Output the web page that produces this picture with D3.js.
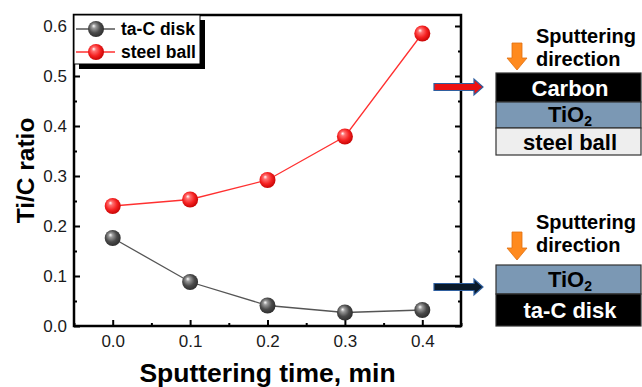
<!DOCTYPE html>
<html>
<head>
<meta charset="utf-8">
<script src="https://cdn.jsdelivr.net/npm/d3@7"></script>
<style>
  body { margin: 0; background: #fff; }
  svg { display: block; font-family: Arial, "Liberation Sans", sans-serif; }
</style>
</head>
<body>
<div id="chart"></div>
<script>
// Ti/C ratio vs sputtering time
const times = [0.0, 0.1, 0.2, 0.3, 0.4];
const taCDisk = [0.176, 0.088, 0.041, 0.027, 0.032];
const steelBall = [0.240, 0.253, 0.292, 0.379, 0.585];
const seriesNames = ["ta-C disk", "steel ball"];
const xTicks = [0.0, 0.1, 0.2, 0.3, 0.4];
const yTicks = [0.0, 0.1, 0.2, 0.3, 0.4, 0.5, 0.6];

const W = 642, H = 387;
const plot = { left: 74, top: 15, right: 461, bottom: 326 };

const svg = d3.select("#chart").append("svg")
  .attr("width", W).attr("height", H);

const defs = svg.append("defs");
function sphereGrad(id, light, mid, dark) {
  const g = defs.append("radialGradient").attr("id", id)
    .attr("cx", "45%").attr("cy", "45%").attr("r", "60%")
    .attr("fx", "35%").attr("fy", "30%");
  g.append("stop").attr("offset", "0%").attr("stop-color", "#ffffff");
  g.append("stop").attr("offset", "22%").attr("stop-color", light);
  g.append("stop").attr("offset", "60%").attr("stop-color", mid);
  g.append("stop").attr("offset", "100%").attr("stop-color", dark);
}
sphereGrad("gGray", "#9a9a9a", "#4a4a4a", "#2a2a2a");
sphereGrad("gRed", "#ff7070", "#f52222", "#c00000");

const x = d3.scaleLinear().domain([-0.05, 0.45]).range([plot.left, plot.right]);
const y = d3.scaleLinear().domain([0, 0.622]).range([plot.bottom, plot.top]);

// axes with inward ticks
const fmt = d3.format(".1f");
const minorX = d3.range(-0.05, 0.451, 0.05).map(v => +v.toFixed(2));
const minorY = d3.range(0.05, 0.62, 0.1).map(v => +v.toFixed(2));

svg.append("g").attr("transform", `translate(0,${plot.bottom})`)
  .call(d3.axisBottom(x).tickValues(xTicks).tickFormat(fmt).tickSizeInner(-6).tickSizeOuter(0).tickPadding(9))
  .call(g => g.select(".domain").remove())
  .call(g => g.selectAll("text").attr("font-size", 17).attr("fill", "#1a1a1a"))
  .call(g => g.selectAll("line").attr("stroke-width", 2));
svg.append("g").attr("transform", `translate(0,${plot.bottom})`)
  .call(d3.axisBottom(x).tickValues(minorX.filter(v => !xTicks.some(t => Math.abs(t - v) < 1e-6))).tickFormat("").tickSizeInner(-3).tickSizeOuter(0))
  .call(g => g.select(".domain").remove())
  .call(g => g.selectAll("line").attr("stroke-width", 2));

svg.append("g").attr("transform", `translate(${plot.left},0)`)
  .call(d3.axisLeft(y).tickValues(yTicks).tickFormat(fmt).tickSizeInner(-6).tickSizeOuter(0).tickPadding(7))
  .call(g => g.select(".domain").remove())
  .call(g => g.selectAll("text").attr("font-size", 17).attr("fill", "#1a1a1a"))
  .call(g => g.selectAll("line").attr("stroke-width", 2));
svg.append("g").attr("transform", `translate(${plot.left},0)`)
  .call(d3.axisLeft(y).tickValues(minorY).tickFormat("").tickSizeInner(-3).tickSizeOuter(0))
  .call(g => g.select(".domain").remove())
  .call(g => g.selectAll("line").attr("stroke-width", 2));

// right side ticks
svg.append("g").attr("transform", `translate(${plot.right},0)`)
  .call(d3.axisRight(y).tickValues(yTicks).tickFormat("").tickSizeInner(-6).tickSizeOuter(0))
  .call(g => g.select(".domain").remove())
  .call(g => g.selectAll("line").attr("stroke-width", 2));
svg.append("g").attr("transform", `translate(${plot.right},0)`)
  .call(d3.axisRight(y).tickValues(minorY).tickFormat("").tickSizeInner(-3).tickSizeOuter(0))
  .call(g => g.select(".domain").remove())
  .call(g => g.selectAll("line").attr("stroke-width", 2));

// frame
svg.append("rect")
  .attr("x", plot.left).attr("y", plot.top)
  .attr("width", plot.right - plot.left).attr("height", plot.bottom - plot.top)
  .attr("fill", "none").attr("stroke", "#000").attr("stroke-width", 2.5);

// axis titles
svg.append("text")
  .attr("transform", `translate(34,${(plot.top + plot.bottom) / 2}) rotate(-90)`)
  .attr("text-anchor", "middle").attr("font-size", 24.5).attr("font-weight", "bold")
  .text("Ti/C ratio");
svg.append("text")
  .attr("x", (plot.left + plot.right) / 2 - 0).attr("y", 382)
  .attr("text-anchor", "middle").attr("font-size", 26.5).attr("font-weight", "bold")
  .text("Sputtering time, min");

// series
const series = [
  { name: seriesNames[0], values: taCDisk, line: "#555", fill: "url(#gGray)" },
  { name: seriesNames[1], values: steelBall, line: "#ff3030", fill: "url(#gRed)" }
];
const line = d3.line().x(d => x(d[0])).y(d => y(d[1]));
series.forEach(s => {
  const pts = times.map((t, i) => [t, s.values[i]]);
  svg.append("path").datum(pts)
    .attr("d", line).attr("fill", "none").attr("stroke", s.line).attr("stroke-width", 1.3);
  svg.append("g").selectAll("circle").data(pts).join("circle")
    .attr("cx", d => x(d[0])).attr("cy", d => y(d[1])).attr("r", 8)
    .attr("fill", s.fill);
});

// legend
const lg = svg.append("g");
lg.append("rect").attr("x", plot.left + 5).attr("y", plot.top + 5)
  .attr("width", 126).attr("height", 49).attr("fill", "#000");
lg.append("rect").attr("x", plot.left).attr("y", plot.top)
  .attr("width", 126).attr("height", 49).attr("fill", "#fff")
  .attr("stroke", "#000").attr("stroke-width", 1);
series.forEach((s, i) => {
  const ly = 29 + i * 23;
  lg.append("line").attr("x1", 76).attr("x2", 115).attr("y1", ly).attr("y2", ly)
    .attr("stroke", s.line).attr("stroke-width", 1.3);
  lg.append("circle").attr("cx", 96).attr("cy", ly).attr("r", 8).attr("fill", s.fill);
  lg.append("text").attr("x", 121).attr("y", ly + 6)
    .attr("font-size", 17.5).attr("font-weight", "bold").text(s.name);
});

// schematic diagrams
function downArrow(cx, y0, y1) {
  const hw = 10, sw = 5, hh = 12;
  svg.append("path")
    .attr("d", `M${cx - sw},${y0} L${cx + sw},${y0} L${cx + sw},${y1 - hh} L${cx + hw},${y1 - hh} L${cx},${y1} L${cx - hw},${y1 - hh} L${cx - sw},${y1 - hh} Z`)
    .attr("fill", "#ff8a1e").attr("stroke", "#e07010").attr("stroke-width", 0.8);
}
function rightArrow(x0, x1, cy, fill) {
  const hw = 8, sw = 3.5, hl = 9;
  svg.append("path")
    .attr("d", `M${x0},${cy - sw} L${x1 - hl},${cy - sw} L${x1 - hl},${cy - hw} L${x1},${cy} L${x1 - hl},${cy + hw} L${x1 - hl},${cy + sw} L${x0},${cy + sw} Z`)
    .attr("fill", fill).attr("stroke", "#2f5f9f").attr("stroke-width", 1.2);
}
function layer(y0, y1, fill, label, color, sub) {
  svg.append("rect").attr("x", 496).attr("y", y0).attr("width", 145).attr("height", y1 - y0)
    .attr("fill", fill).attr("stroke", "#333").attr("stroke-width", 1.2);
  const t = svg.append("text").attr("x", 570).attr("y", (y0 + y1) / 2 + (sub ? 7 : 8))
    .attr("text-anchor", "middle").attr("font-size", 22).attr("font-weight", "bold")
    .attr("fill", color).text(label);
  if (sub) t.append("tspan").attr("font-size", 14).attr("dy", 4).text(sub);
}
function direction(ty) {
  svg.append("text").attr("x", 536).attr("y", ty).attr("font-size", 20)
    .attr("font-weight", "bold").text("Sputtering");
  svg.append("text").attr("x", 536).attr("y", ty + 23).attr("font-size", 20)
    .attr("font-weight", "bold").text("direction");
}

direction(43);
downArrow(517, 43, 70);
layer(73, 102, "#000", "Carbon", "#fff");
layer(102, 128, "#7b98b4", "TiO", "#000", "2");
layer(128, 155, "#eeeeee", "steel ball", "#000");
rightArrow(434, 483, 87, "#ee1111");

direction(229);
downArrow(517, 232, 260);
layer(265, 294, "#7b98b4", "TiO", "#000", "2");
layer(294, 326, "#000", "ta-C disk", "#fff");
rightArrow(434, 483, 287, "#0a1a2a");
</script>
</body>
</html>
